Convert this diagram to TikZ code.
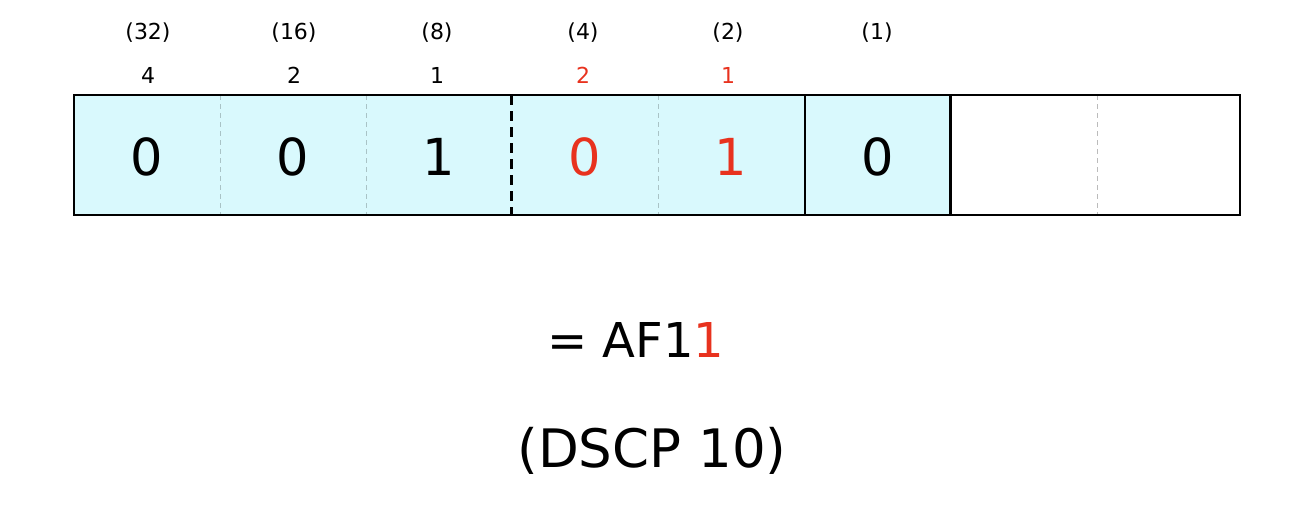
\documentclass[tikz,border=0pt]{standalone}
\usepackage{fontspec}
\setmainfont{DejaVu Sans}
\definecolor{cellfill}{HTML}{D9F9FD}
\definecolor{redtxt}{HTML}{E8321E}
\definecolor{sepcyan}{HTML}{A9C3C6}
\definecolor{sepgray}{HTML}{BBBBBB}
\begin{document}
\begin{tikzpicture}[x=1pt,y=-1pt,
  cellbox/.style={rectangle, inner sep=0pt, outer sep=0pt, minimum height=120pt, anchor=north west, draw=none},
  bitfont/.style={font=\fontsize{51}{60}\selectfont},
  small/.style={font=\fontsize{22}{26}\selectfont, inner sep=0pt},
  big/.style={font=\fontsize{48}{56}\selectfont, inner sep=0pt, anchor=base},
  border/.style={line width=2.4pt, black},
  thickdash/.style={line width=2.4pt, black, dash pattern=on 10pt off 6pt},
  thindash/.style={line width=1pt, dash pattern=on 5pt off 4pt}
]
\useasboundingbox (0,0) rectangle (1290,522);
% cells
\node[cellbox, fill=cellfill, minimum width=146pt]   (c1) at (74,95) {};
\node[cellbox, fill=cellfill, minimum width=146pt]   (c2) at (220,95) {};
\node[cellbox, fill=cellfill, minimum width=145.5pt] (c3) at (366,95) {};
\node[cellbox, fill=cellfill, minimum width=146.5pt] (c4) at (511.5,95) {};
\node[cellbox, fill=cellfill, minimum width=147pt]   (c5) at (658,95) {};
\node[cellbox, fill=cellfill, minimum width=145.5pt] (c6) at (805,95) {};
\node[cellbox, minimum width=146.5pt] (c7) at (950.5,95) {};
\node[cellbox, minimum width=143pt]   (c8) at (1097,95) {};
% digits
\node[bitfont, anchor=base] (d1) at (147,175) {0};
\node[bitfont, anchor=base] (d2) at (293,175) {0};
\node[bitfont, anchor=base] (d3) at (439,175) {1};
\node[bitfont, anchor=base, text=redtxt] (d4) at (585,175) {0};
\node[bitfont, anchor=base, text=redtxt] (d5) at (731,175) {1};
\node[bitfont, anchor=base] (d6) at (878,175) {0};
% separators
\draw[thindash, sepcyan] (c2.north west) -- (c2.south west);
\draw[thindash, sepcyan] (c3.north west) -- (c3.south west);
\draw[thindash, sepcyan] (c5.north west) -- (c5.south west);
\draw[thindash, sepgray] (c8.north west) -- (c8.south west);
\draw[thickdash] (c4.north west) -- (c4.south west);
\draw[border] (c6.north west) -- (c6.south west);
\draw[border] (c7.north west) -- (c7.south west);
\draw[border] (c1.north west) rectangle (c8.south east);
% weights
\node[small, anchor=base] (w1) at (148,39) {(32)};
\node[small, anchor=base] (w2) at (294,39) {(16)};
\node[small, anchor=base] (w3) at (437,39) {(8)};
\node[small, anchor=base] (w4) at (583,39) {(4)};
\node[small, anchor=base] (w5) at (728,39) {(2)};
\node[small, anchor=base] (w6) at (877,39) {(1)};
\node[small, anchor=base] (v1) at (148,83) {4};
\node[small, anchor=base] (v2) at (294,83) {2};
\node[small, anchor=base] (v3) at (437,83) {1};
\node[small, anchor=base, text=redtxt] (v4) at (583,83) {2};
\node[small, anchor=base, text=redtxt] (v5) at (728,83) {1};
% result
\node[big] (af) at (636,357) {= AF1\textcolor{redtxt}{1}};
\node[big, font=\fontsize{53}{62}\selectfont] (dscp) at (652,467) {(DSCP 10)};
\end{tikzpicture}
\end{document}
